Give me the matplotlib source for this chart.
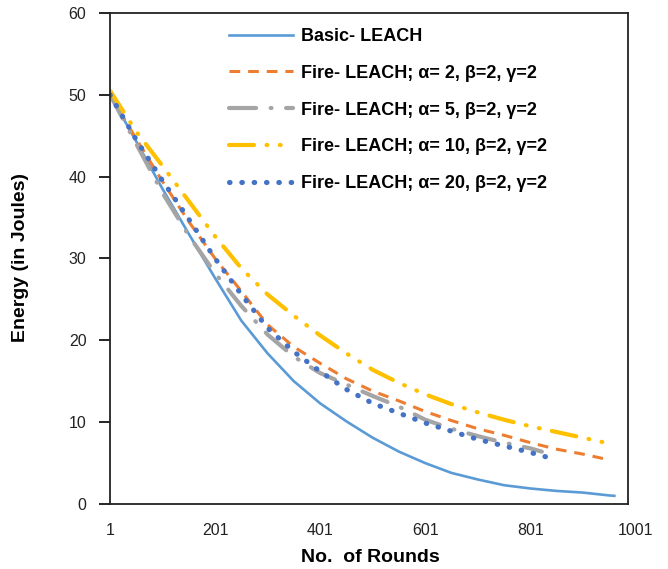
import matplotlib.pyplot as plt
from matplotlib.transforms import blended_transform_factory

plt.rcParams['font.family'] = ['Liberation Sans', 'DejaVu Sans']

rounds = [1, 51, 101, 151, 201, 251, 301, 351, 401, 451, 501, 551, 601, 651,
          701, 751, 801, 851, 901, 951, 961]
a5_rounds = rounds[:17] + [823]

basic_leach = [50, 44.3, 38.5, 33.0, 27.6, 22.4, 18.4, 15.0, 12.3, 10.1, 8.1,
               6.4, 5.0, 3.8, 3.0, 2.3, 1.9, 1.6, 1.4, 1.05, 1.0]
fire_a2 = [50, 44.6, 39.4, 34.5, 30.0, 26.0, 21.9, 19.2, 17.2, 15.3, 13.8,
           12.6, 11.3, 10.2, 9.2, 8.4, 7.5, 6.7, 6.1, 5.4]
fire_a5 = [50, 44.0, 38.0, 32.8, 28.2, 24.2, 20.7, 18.0, 16.0, 14.6, 13.2,
           11.9, 10.3, 9.2, 8.3, 7.5, 6.8, 6.4]
fire_a10 = [50.5, 45.5, 41.3, 37.0, 32.7, 28.8, 25.6, 23.0, 20.6, 18.4, 16.4,
            14.8, 13.4, 12.2, 11.2, 10.3, 9.5, 8.8, 8.1, 7.4, 7.3]
fire_a20 = [50, 44.5, 39.5, 34.8, 30.0, 25.6, 21.5, 18.6, 16.2, 14.0, 12.3,
            11.1, 9.9, 8.9, 7.9, 7.1, 6.3, 5.4]

labels = ['Basic- LEACH',
          'Fire- LEACH; α= 2, β=2, γ=2',
          'Fire- LEACH; α= 5, β=2, γ=2',
          'Fire- LEACH; α= 10, β=2, γ=2',
          'Fire- LEACH; α= 20, β=2, γ=2']

x_ticks = [1, 201, 401, 601, 801, 1001]
y_ticks = [0, 10, 20, 30, 40, 50, 60]

fig = plt.figure(figsize=(6.68, 5.69), dpi=100)
ax = fig.add_axes([0.1647, 0.1142, 0.7754, 0.863])

ax.plot(rounds[:len(basic_leach)], basic_leach, color='#5B9BD5', lw=1.9,
        label=labels[0])
ax.plot(rounds[:len(fire_a2)], fire_a2, color='#ED7D31', lw=2.2,
        ls=(0, (3.5, 2.6)), label=labels[1])
ax.plot(a5_rounds, fire_a5, color='#A5A5A5', lw=3.0,
        ls=(0, (6.5, 3.5, 0.2, 3.5)), dash_capstyle='round', label=labels[2])
ax.plot(rounds[:len(fire_a10)], fire_a10, color='#FFC000', lw=3.0,
        ls=(0, (6, 3, 0.2, 3, 0.2, 3)), dash_capstyle='round', label=labels[3])
ax.plot(rounds[:len(fire_a20)], fire_a20, color='#4472C4', lw=3.7,
        ls=(0, (0.1, 2.3)), dash_capstyle='round', label=labels[4])

ax.set_xlim(1, 987)
ax.set_ylim(0, 60)
ax.set_yticks(y_ticks)
ax.set_yticklabels([str(v) for v in y_ticks], fontsize=11.5, color='#222222')

# category-style x labels, the last one sits past the plot edge
ax.set_xticks([])
trans = blended_transform_factory(ax.transData, ax.transAxes)
for t in x_ticks:
    ax.text(t, -0.053, str(t), transform=trans, ha='center', va='center',
            fontsize=11.5, color='#222222', clip_on=False)

ax.tick_params(axis='y', direction='out', length=8, width=1.2, pad=9)
for s in ax.spines.values():
    s.set_linewidth(1.3)
    s.set_color('#222222')

fig.text(0.555, 0.021, 'No.  of Rounds', ha='center', va='center',
         fontsize=14, fontweight='bold')
fig.text(0.031, 0.547, 'Energy (in Joules)', ha='center', va='center',
         rotation=90, fontsize=14, fontweight='bold')

leg = ax.legend(loc='upper left', bbox_to_anchor=(0.212, 0.988), frameon=False,
                prop={'size': 13, 'weight': 'bold'}, handlelength=3.55,
                handletextpad=0.45, labelspacing=1.1, borderpad=0)

fig.savefig('out.png', dpi=100)
